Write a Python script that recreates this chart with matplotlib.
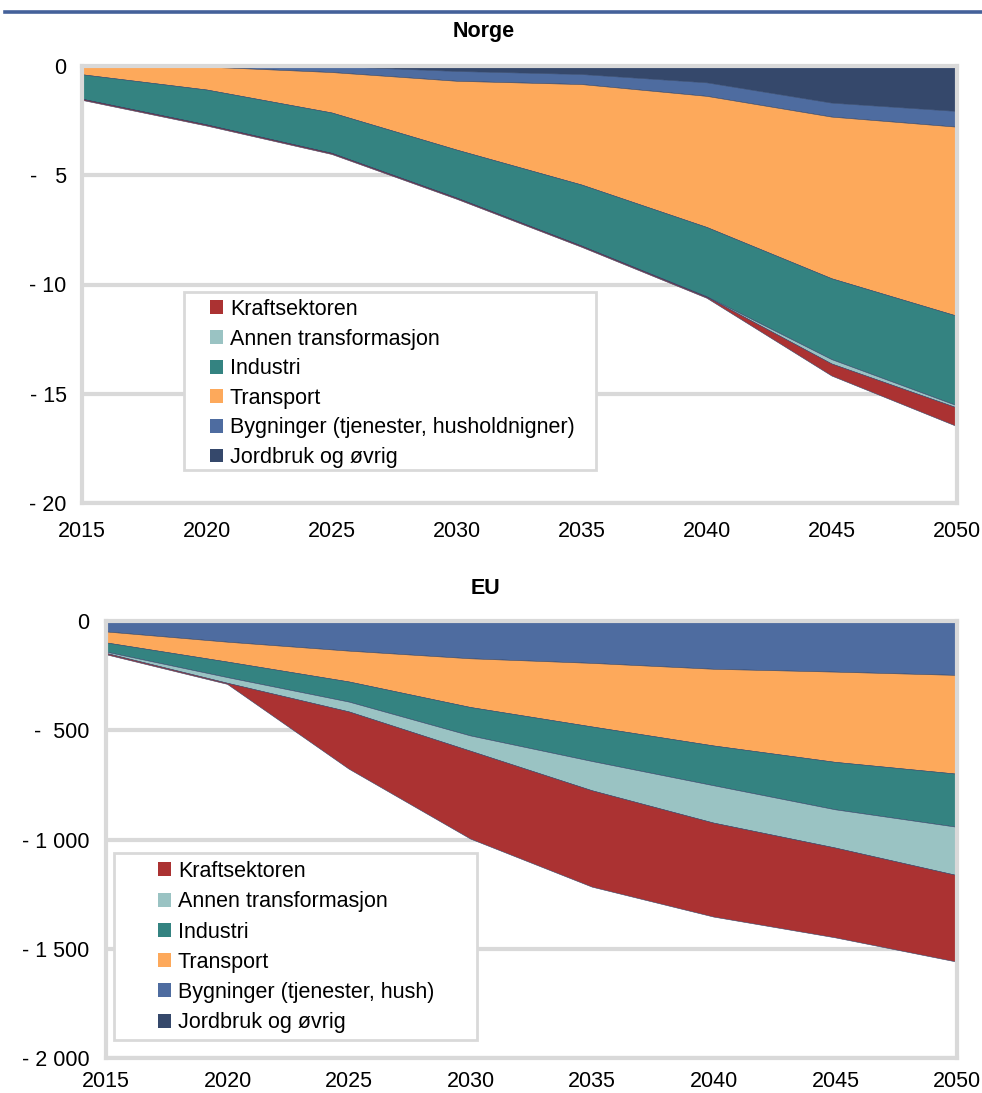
import matplotlib.pyplot as plt
from matplotlib.patches import Rectangle, Patch
from matplotlib.lines import Line2D

plt.rcParams['font.family'] = ['Liberation Sans', 'DejaVu Sans']

years = [2015, 2020, 2025, 2030, 2035, 2040, 2045, 2050]

# Norge (mill. tonn CO2, endring)
no_kraft = [-0.05, -0.05, -0.05, -0.05, -0.05, -0.05, -0.55, -0.85]
no_annen = [0, 0, 0, 0, 0, -0.02, -0.2, -0.1]
no_industri = [-1.12, -1.6, -1.85, -2.2, -2.8, -3.17, -3.7, -4.1]
no_transport = [-0.35, -1.05, -1.85, -3.15, -4.6, -6.0, -7.4, -8.65]
no_bygg = [-0.05, -0.05, -0.28, -0.45, -0.46, -0.62, -0.64, -0.72]
no_jordbruk = [0, 0, -0.02, -0.25, -0.39, -0.77, -1.7, -2.08]

# EU
eu_kraft = [-6, -5, -262, -402, -441, -430, -411, -396]
eu_annen = [-6, -26, -45, -70, -134, -171, -175, -221]
eu_industri = [-42, -71, -92, -130, -158, -182, -217, -243]
eu_transport = [-50, -91, -141, -223, -291, -351, -413, -452]
eu_bygg = [-50, -97, -138, -173, -194, -221, -234, -249]
eu_jordbruk = [0, 0, 0, 0, 0, 0, 0, 0]

colors = ['#AB3232', '#9AC3C3', '#348381', '#FDA95B', '#4E6CA0', '#35486B']
labels_no = ['Kraftsektoren', 'Annen transformasjon', 'Industri', 'Transport',
             'Bygninger (tjenester, husholdnigner)', 'Jordbruk og øvrig']
labels_eu = ['Kraftsektoren', 'Annen transformasjon', 'Industri', 'Transport',
             'Bygninger (tjenester, hush)', 'Jordbruk og øvrig']

no_yticks = [0, -5, -10, -15, -20]
no_ylabels = ['0', '-   5', '- 10', '- 15', '- 20']
eu_yticks = [0, -500, -1000, -1500, -2000]
eu_ylabels = ['0', '-  500', '- 1 000', '- 1 500', '- 2 000']

W, H = 982, 1093
fig = plt.figure(figsize=(W / 100, H / 100), dpi=100)


def fx(px):
    return px / W


def fy(px):
    return 1 - px / H


def draw(ax, series, ymin, yticks, ylabels, ypad, xpad):
    # stack from 0 downward: jordbruk, bygg, transport, industri, annen, kraft
    order = [5, 4, 3, 2, 1, 0]
    ax.stackplot(years, [series[i] for i in order],
                 colors=[colors[i] for i in order], linewidth=0.4,
                 edgecolors=[colors[i] for i in order])
    ax.set_xlim(2015, 2050)
    ax.set_ylim(ymin, 0)
    ax.set_xticks(years)
    ax.set_yticks(yticks)
    ax.set_yticklabels(ylabels)
    ax.grid(axis='y', color='#D9D9D9', linewidth=3)
    ax.set_axisbelow(True)
    for s in ax.spines.values():
        s.set_color('#D9D9D9')
        s.set_linewidth(3)
    ax.tick_params(axis='x', top=True, bottom=False, labelbottom=True,
                   direction='in', length=5, width=3, color='#EFEFEF',
                   labelsize=15.5, pad=xpad)
    ax.tick_params(axis='y', length=0, labelsize=15.5, pad=ypad)


ax1 = fig.add_axes([fx(82), fy(503), fx(957 - 82), (503 - 66) / H])
draw(ax1, [no_kraft, no_annen, no_industri, no_transport, no_bygg, no_jordbruk],
     -20, no_yticks, no_ylabels, 11, 13)

ax2 = fig.add_axes([fx(106), fy(1058), fx(957 - 106), (1058 - 621) / H])
draw(ax2, [eu_kraft, eu_annen, eu_industri, eu_transport, eu_bygg, eu_jordbruk],
     -2000, eu_yticks, eu_ylabels, 12, 9.5)

fig.text(fx(484), fy(32), 'Norge', ha='center', va='center', fontsize=15.5, fontweight='bold')
fig.text(fx(485), fy(588), 'EU', ha='center', va='center', fontsize=15.5, fontweight='bold')

# blue rule at the top
fig.add_artist(Line2D([fx(5), 1], [fy(12), fy(12)], color='#44619A', linewidth=2.6,
                      transform=fig.transFigure))

# legend boxes
for (x0, y0, x1, y1) in [(184, 292, 596, 470), (114, 853, 477, 1040)]:
    fig.add_artist(Rectangle((fx(x0), fy(y1)), fx(x1 - x0), (y1 - y0) / H,
                             transform=fig.transFigure, facecolor='white',
                             edgecolor='#D9D9D9', linewidth=2, zorder=4))

for labels, anchor, spacing in [(labels_no, (fx(210), fy(299)), 0.4),
                                (labels_eu, (fx(158), fy(861)), 0.43)]:
    handles = [Patch(facecolor=c, edgecolor='none') for c in colors]
    fig.legend(handles, labels, loc='upper left', bbox_to_anchor=anchor,
               frameon=False, fontsize=15.5, borderpad=0, borderaxespad=0,
               handlelength=0.62, handleheight=0.62, handletextpad=0.3,
               labelspacing=spacing)

fig.savefig('out.png', dpi=100)
